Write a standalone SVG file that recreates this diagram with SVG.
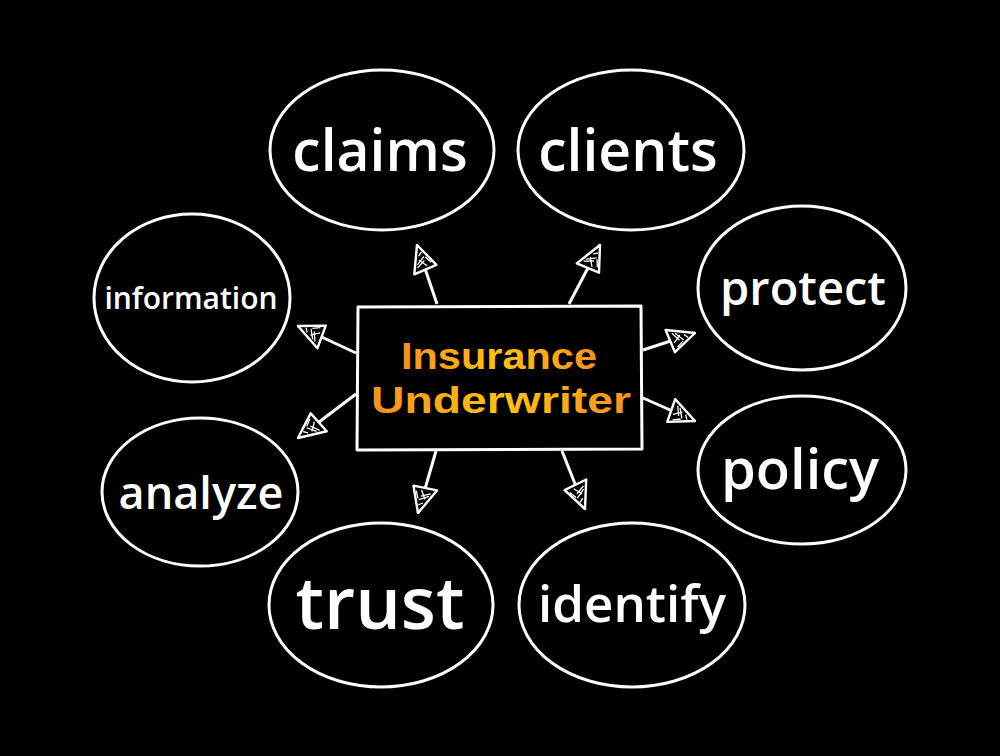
<svg xmlns="http://www.w3.org/2000/svg" width="1000" height="756" viewBox="0 0 1000 756">
<defs>
<style>
.bub{fill:#000;stroke:#fff;stroke-width:3}
.lbl{fill:#fff;font-family:"Open Sans","Liberation Sans",sans-serif;font-weight:600;text-anchor:middle;dominant-baseline:central}
.con{stroke:#fff;stroke-width:3;fill:none;marker-end:url(#ah)}
.title{font-family:"Liberation Sans",Arial,sans-serif;font-weight:700;font-size:37px;text-anchor:middle;fill:url(#og)}
</style>
<linearGradient id="og" x1="0" y1="0" x2="1" y2="0">
<stop offset="0" stop-color="#f7901e"/>
<stop offset="0.5" stop-color="#ffc20f"/>
<stop offset="1" stop-color="#f7901e"/>
</linearGradient>
<marker id="ah" viewBox="-30 -14 32 28" refX="0" refY="0" markerWidth="32" markerHeight="28" markerUnits="userSpaceOnUse" orient="auto">
<path d="M0,0 L-27,-12 L-25,12 Z" fill="#000" stroke="#fff" stroke-width="2.4" stroke-linejoin="round"/>
<path d="M-22,-7 L-17,2 M-19,-6 L-13,3 M-23,3 L-15,-3 M-11,-2 L-8,2 M-21,8 L-14,4" stroke="#fff" stroke-width="1.3" fill="none"/>
</marker>
</defs>
<rect width="1000" height="756" fill="#000"/>
<g id="connectors">
<line class="con" x1="437" y1="304" x2="417" y2="245"/>
<line class="con" x1="569" y1="304" x2="600" y2="245"/>
<line class="con" x1="356" y1="353" x2="298" y2="326"/>
<line class="con" x1="356" y1="394" x2="298" y2="438"/>
<line class="con" x1="436" y1="451" x2="418" y2="513"/>
<line class="con" x1="562" y1="451" x2="585" y2="509"/>
<line class="con" x1="643" y1="350" x2="695" y2="333"/>
<line class="con" x1="643" y1="398" x2="695" y2="421"/>
</g>
<g id="center">
<path d="M358,307 L641,306 L642,449 L357,450 Z" fill="#000" stroke="#fff" stroke-width="3" stroke-linejoin="round"/>
<text class="title" x="499" y="369" textLength="196" lengthAdjust="spacingAndGlyphs">Insurance</text>
<text class="title" x="501" y="413" textLength="260" lengthAdjust="spacingAndGlyphs">Underwriter</text>
</g>
<g id="claims">
<ellipse class="bub" cx="382" cy="150" rx="112" ry="80"/>
<text class="lbl" x="380" y="149" font-size="57">claims</text>
</g>
<g id="clients">
<ellipse class="bub" cx="631" cy="150" rx="113" ry="80"/>
<text class="lbl" x="628" y="149" font-size="57">clients</text>
</g>
<g id="information">
<ellipse class="bub" cx="192" cy="298" rx="98" ry="84"/>
<text class="lbl" x="191" y="297" font-size="30">information</text>
</g>
<g id="protect">
<ellipse class="bub" cx="802" cy="288" rx="104" ry="82"/>
<text class="lbl" x="803" y="287" font-size="47">protect</text>
</g>
<g id="analyze">
<ellipse class="bub" cx="200" cy="492" rx="98" ry="74"/>
<text class="lbl" x="201" y="491" font-size="45">analyze</text>
</g>
<g id="policy">
<ellipse class="bub" cx="802" cy="470" rx="104" ry="74"/>
<text class="lbl" x="800" y="467" font-size="56">policy</text>
</g>
<g id="trust">
<ellipse class="bub" cx="381" cy="605" rx="112" ry="82"/>
<text class="lbl" x="380" y="601" font-size="72">trust</text>
</g>
<g id="identify">
<ellipse class="bub" cx="632" cy="605" rx="113" ry="82"/>
<text class="lbl" x="632" y="602" font-size="51">identify</text>
</g>
</svg>
